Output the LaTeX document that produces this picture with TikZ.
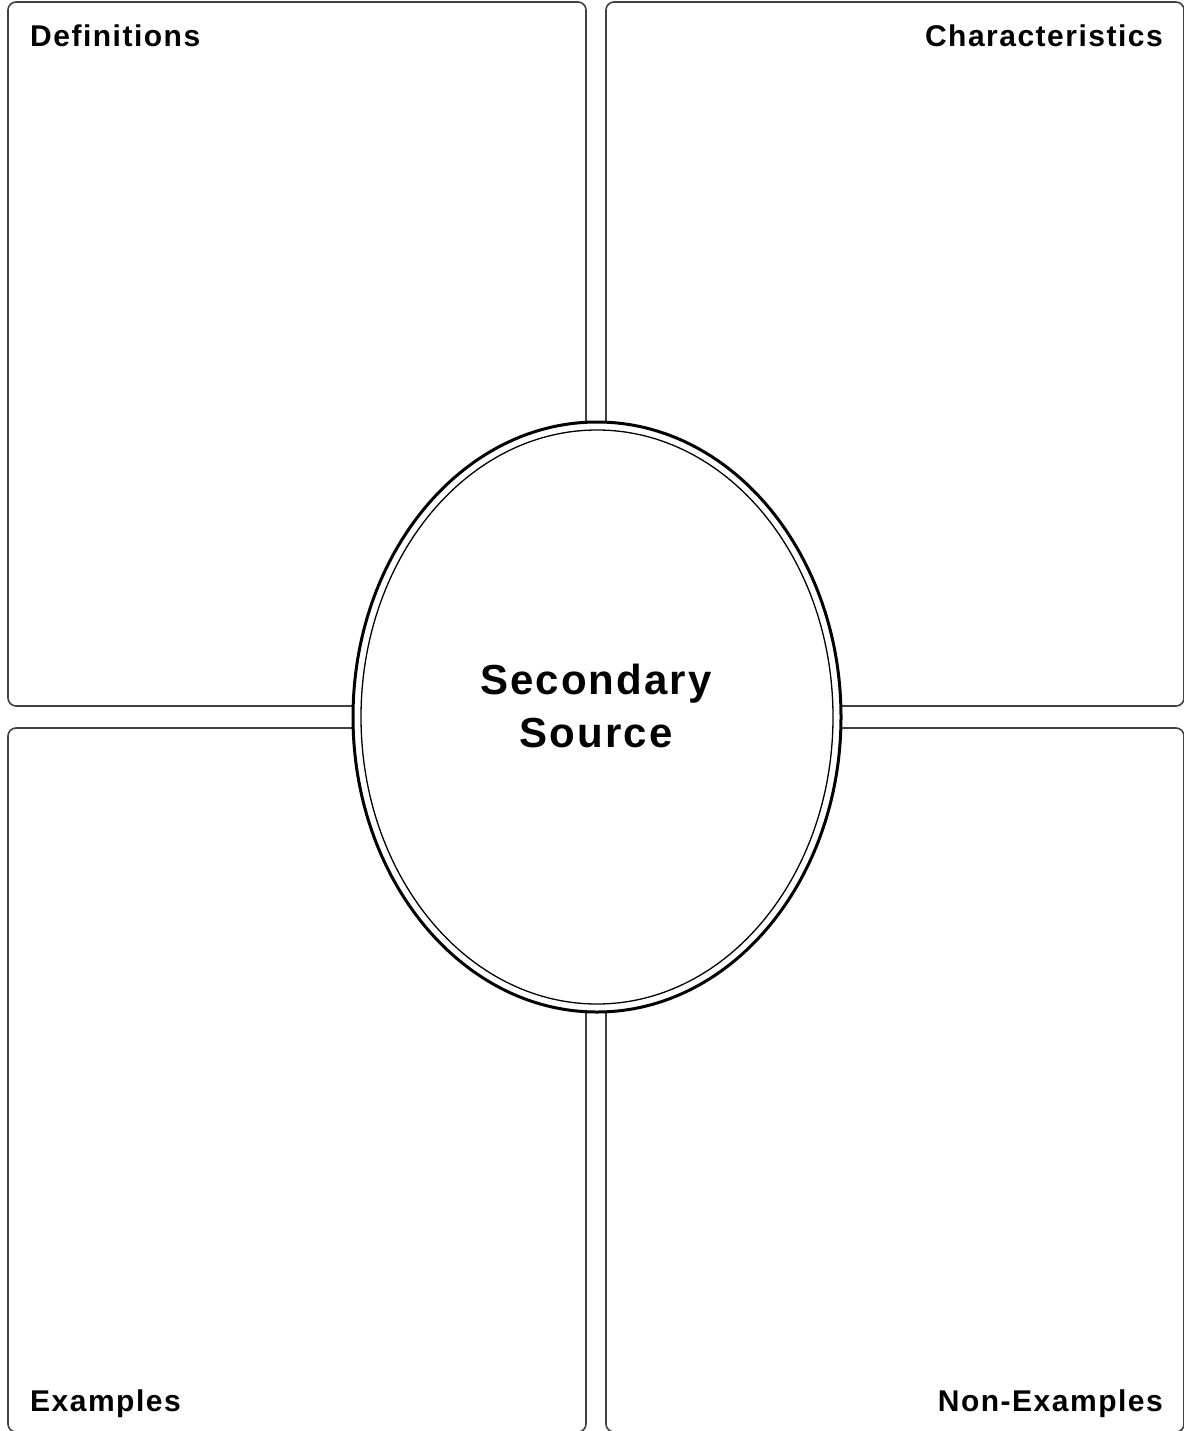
\documentclass[tikz,border=0pt]{standalone}
\usepackage{fontspec}
\setmainfont{Liberation Sans}
\newfontfamily\spacedfont[LetterSpace=5]{Liberation Sans}
\usetikzlibrary{positioning,shapes.geometric}

\begin{document}
\begin{tikzpicture}[x=1pt, y=-1pt,
    quad/.style={draw=black!75, line width=1.6pt, rounded corners=8pt,
        minimum width=578pt, minimum height=704pt, inner sep=0pt},
    tag/.style={font=\spacedfont\fontsize{30}{34}\selectfont\bfseries, inner sep=0pt},
    hub/.style={ellipse, draw, fill=white, line width=3pt,
        minimum width=488pt, minimum height=590pt}]
    \useasboundingbox (0,0) rectangle (1183,1431);

    % the four boxes
    \node[quad] (def) at (297, 354) {};
    \node[quad] (chr) at (895, 354) {};
    \node[quad] (exa) at (297, 1080) {};
    \node[quad] (non) at (895, 1080) {};

    \node[tag, anchor=base west] (tdef) at (30, 47) {Definitions};
    \node[tag, anchor=base east] (tchr) at (1163, 47) {Characteristics};
    \node[tag, anchor=base west] (texa) at (30, 1411) {Examples};
    \node[tag, anchor=base east] (tnon) at (1163, 1411) {Non-Examples};

    % centre
    \node[hub] (src) at (597, 717) {};
    \draw[line width=1.3pt] (src.center) ellipse [x radius=236, y radius=287];
    \node[font=\spacedfont\fontsize{42}{53}\selectfont\bfseries, align=center] (lbl) at (596, 706) {Secondary\\Source};
\end{tikzpicture}
\end{document}
